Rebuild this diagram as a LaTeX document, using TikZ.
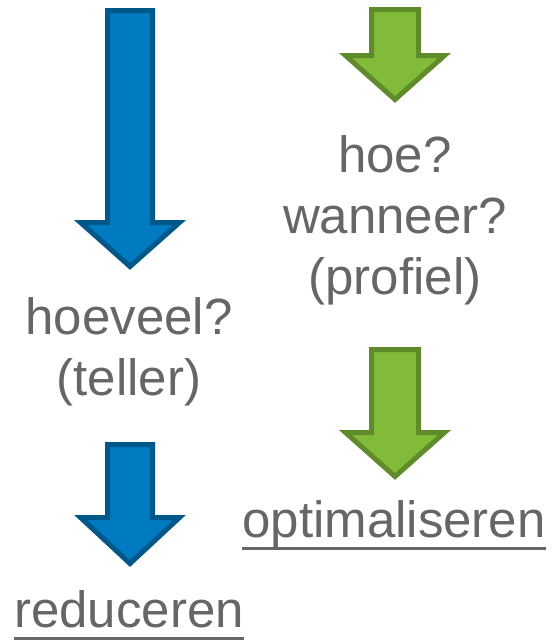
\documentclass[tikz,border=0pt]{standalone}
\usepackage{fontspec}
\setmainfont{Liberation Sans}
\usepackage{tikz}
\usetikzlibrary{positioning}

\definecolor{blueFill}{RGB}{0,122,193}
\definecolor{blueLine}{RGB}{0,88,138}
\definecolor{greenFill}{RGB}{130,186,58}
\definecolor{greenLine}{RGB}{96,139,42}
\definecolor{textGray}{RGB}{102,102,102}

% underlined word, rule set well below the baseline
\newcommand{\ulword}[1]{\setbox0=\hbox{#1}\rlap{\rule[-13pt]{\wd0}{3pt}}\box0}

\begin{document}
\begin{tikzpicture}[x=1pt,y=-1pt,
  bluearrow/.style={draw=blueLine,fill=blueFill,line width=5pt},
  greenarrow/.style={draw=greenLine,fill=greenFill,line width=5pt},
  word/.style={text=textGray,inner sep=0pt,align=center,
    font=\fontsize{51}{61}\selectfont}]
\useasboundingbox (0,0) rectangle (555,640);
\def\arrowBlueA{(107.5,10.5) -- (152.5,10.5) -- (152.5,222.5) -- (179.5,222.5) -- (130,266.5) -- (80.5,222.5) -- (107.5,222.5) -- cycle}
\def\arrowBlueB{(107.5,444.5) -- (152.5,444.5) -- (152.5,517.5) -- (179.5,517.5) -- (130,563.5) -- (80.5,517.5) -- (107.5,517.5) -- cycle}
\def\arrowGreenA{(371.5,9.5) -- (418.5,9.5) -- (418.5,55.5) -- (444.5,55.5) -- (395,99.5) -- (345.5,55.5) -- (371.5,55.5) -- cycle}
\def\arrowGreenB{(371.5,349.5) -- (418.5,349.5) -- (418.5,432.5) -- (444.5,432.5) -- (395,476.5) -- (345.5,432.5) -- (371.5,432.5) -- cycle}
\draw[bluearrow] \arrowBlueA;
\draw[bluearrow] \arrowBlueB;
\draw[greenarrow] \arrowGreenA;
\draw[greenarrow] \arrowGreenB;
% text (base = last line)
\node[word,anchor=base] (hoeveel) at (129,395) {hoeveel?\\(teller)};
\node[word,anchor=base] (hoe) at (395,294) {hoe?\\wanneer?\\(profiel)};
\node[word,anchor=base] (optim) at (394,537) {\ulword{optimaliseren}};
\node[word,anchor=base] (reduc) at (129,627) {\ulword{reduceren}};
\end{tikzpicture}
\end{document}
